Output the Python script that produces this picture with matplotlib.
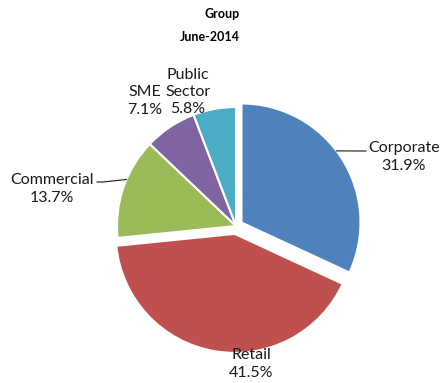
import numpy as np
import matplotlib.pyplot as plt

segments = ['Corporate', 'Retail', 'Commercial', 'SME', 'Public\nSector']
shares = [31.9, 41.5, 13.7, 7.1, 5.8]
colours = ['#4F81BD', '#C0504D', '#9BBB59', '#8064A2', '#4BACC6']
# pie() offsets exploded wedges in data units, here pixels
explode = [6.5, 8, 0, 0, 0]

# label centres in figure pixels (y measured from the top)
label_pos = [(404, 157), (251, 364), (52, 189), (145, 101), (188, 92)]
# arc angle where a leader line starts (None = no leader)
leader_angle = [37, None, 157, None, None]
leader_end = [(366, 151), None, (97, 182), None, None]

W, H = 445, 383
CX, CY, R = 236, 226, 119


def main():
    plt.rcParams['font.family'] = ['Lato', 'DejaVu Sans']
    fig = plt.figure(figsize=(W / 100, H / 100), dpi=100)
    ax = fig.add_axes([0, 0, 1, 1])

    wedges, _ = ax.pie(shares, colors=colours, startangle=90, counterclock=False,
                       explode=explode, center=(CX, H - CY), radius=R,
                       wedgeprops=dict(edgecolor='white', linewidth=1.5))
    # pie() resets the limits, so put the pixel frame back afterwards
    ax.set_xlim(0, W)
    ax.set_ylim(0, H)
    ax.set_aspect('equal')
    ax.axis('off')

    for i, w in enumerate(wedges):
        (px, py) = label_pos[i]
        txt = '%s\n%.1f%%' % (segments[i], shares[i])
        ax.text(px, H - py, txt, ha='center', va='center', fontsize=11.5,
                color='#1a1a1a', linespacing=1.3)
        if leader_angle[i] is not None:
            cx, cy = w.center
            a = np.radians(leader_angle[i])
            x0, y0 = cx + w.r * np.cos(a), cy + w.r * np.sin(a)
            ex, ey = leader_end[i]
            mx = x0 + (ex - x0) * 0.8
            ax.plot([x0, mx, ex], [y0, H - ey, H - ey], color='#1a1a1a', lw=0.8)

    fig.text(222 / W, 1 - 14 / H, 'Group', ha='center', va='center',
             fontsize=9, fontweight='bold')
    fig.text(210 / W, 1 - 37 / H, 'June-2014', ha='center', va='center',
             fontsize=9, fontweight='bold')

    fig.savefig('out.png', dpi=100)


if __name__ == '__main__':
    main()
